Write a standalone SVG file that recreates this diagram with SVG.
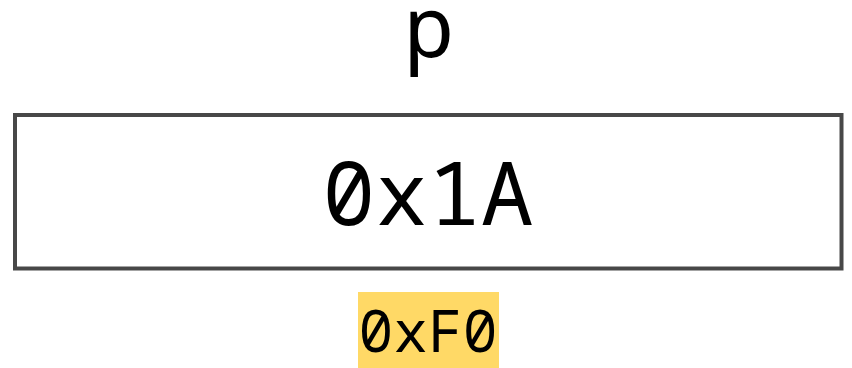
<svg xmlns="http://www.w3.org/2000/svg" width="852" height="368" viewBox="0 0 852 368">
  <style>
    .label { font-family: "Noto Sans Mono", "Roboto Mono", "DejaVu Sans Mono", monospace; fill: #000; }
    .mono { font-family: "Noto Sans Mono", "Roboto Mono", "DejaVu Sans Mono", monospace; fill: #000; }
    .cell { fill: #fff; stroke: #484848; stroke-width: 4; }
    .addr { fill: #FFD966; }
  </style>
  <rect width="852" height="368" fill="#fff"/>
  <g id="var-name">
    <text class="label" x="429" y="57" font-size="84" text-anchor="middle">p</text>
  </g>
  <g id="cell">
    <rect class="cell" x="15" y="115" width="826.5" height="153.5"/>
    <text class="mono" x="428" y="225" font-size="88" text-anchor="middle">0x1A</text>
  </g>
  <g id="address">
    <rect class="addr" x="358" y="292" width="141" height="76"/>
    <text class="mono" x="428" y="352" font-size="58" text-anchor="middle">0xF0</text>
  </g>
  <g id="connectors"/>
</svg>
